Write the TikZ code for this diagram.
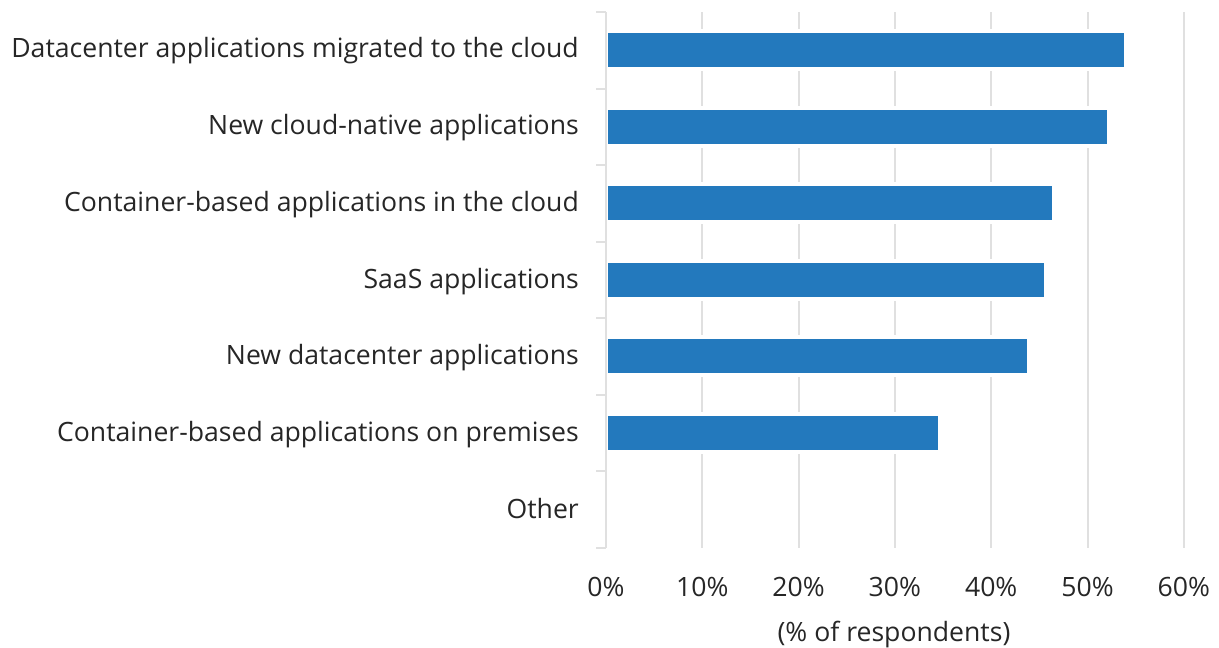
\documentclass[tikz,border=0pt]{standalone}
\usepackage{fontspec}
\setmainfont{Open Sans}
\definecolor{barblue}{HTML}{2379BD}
\definecolor{gridgray}{HTML}{E0E0E0}
\definecolor{labelgray}{HTML}{262626}
\tikzset{
  catlabel/.style={anchor=base east, text=labelgray, inner sep=0pt, font=\fontsize{26.6}{32}\selectfont},
  ticklabel/.style={anchor=base, text=labelgray, inner sep=0pt, font=\fontsize{26.6}{32}\selectfont},
  gridline/.style={draw=gridgray, line width=2pt},
  barfill/.style={fill=barblue},
  barmask/.style={fill=white}
}
% row (0 = top), value in percent
\newcommand{\drawbar}[2]{%
  \fill[barmask] (608,{50+76.6*#1-21}) rectangle ({606+9.63*#2+2},{50+76.6*#1+21});
  \fill[barfill] (608,{50+76.6*#1-17}) rectangle ({606+9.63*#2},{50+76.6*#1+17});
}

\begin{document}
\begin{tikzpicture}[x=1pt, y=-1pt]
    \useasboundingbox (0,0) rectangle (1219,648);

    % Grid
    \foreach \g in {1,...,6}
        \draw[gridline] ({606+96.3*\g},12) -- ({606+96.3*\g},547.5);

    % Bars
    \drawbar{0}{53.8}
    \drawbar{1}{52.0}
    \drawbar{2}{46.3}
    \drawbar{3}{45.5}
    \drawbar{4}{43.7}
    \drawbar{5}{34.5}

    % Axis and category ticks
    \draw[gridline] (606,12) -- (606,547.5);
    \foreach \s in {0,...,7}
        \draw[gridline] (596,{12+76.5*\s}) -- (606,{12+76.5*\s});

    % Category labels (at their baselines)
    \node[catlabel] (migrated) at (579,57.7) {Datacenter applications migrated to the cloud};
    \node[catlabel] (native) at (579,134.5) {New cloud-native applications};
    \node[catlabel] (cloud) at (579,211.2) {Container-based applications in the cloud};
    \node[catlabel] (saas) at (579,288) {SaaS applications};
    \node[catlabel] (newdc) at (579,364.8) {New datacenter applications};
    \node[catlabel] (premises) at (579,441.5) {Container-based applications on premises};
    \node[catlabel] (other) at (579,518.3) {Other};

    % Value axis
    \foreach \v/\t in {0/0, 1/10, 2/20, 3/30, 4/40, 5/50, 6/60}
        \node[ticklabel] (tick\v) at ({606+96.3*\v},596) {\t\%};
    \node[ticklabel] (axistitle) at (894,641) {(\% of respondents)};
\end{tikzpicture}
\end{document}
